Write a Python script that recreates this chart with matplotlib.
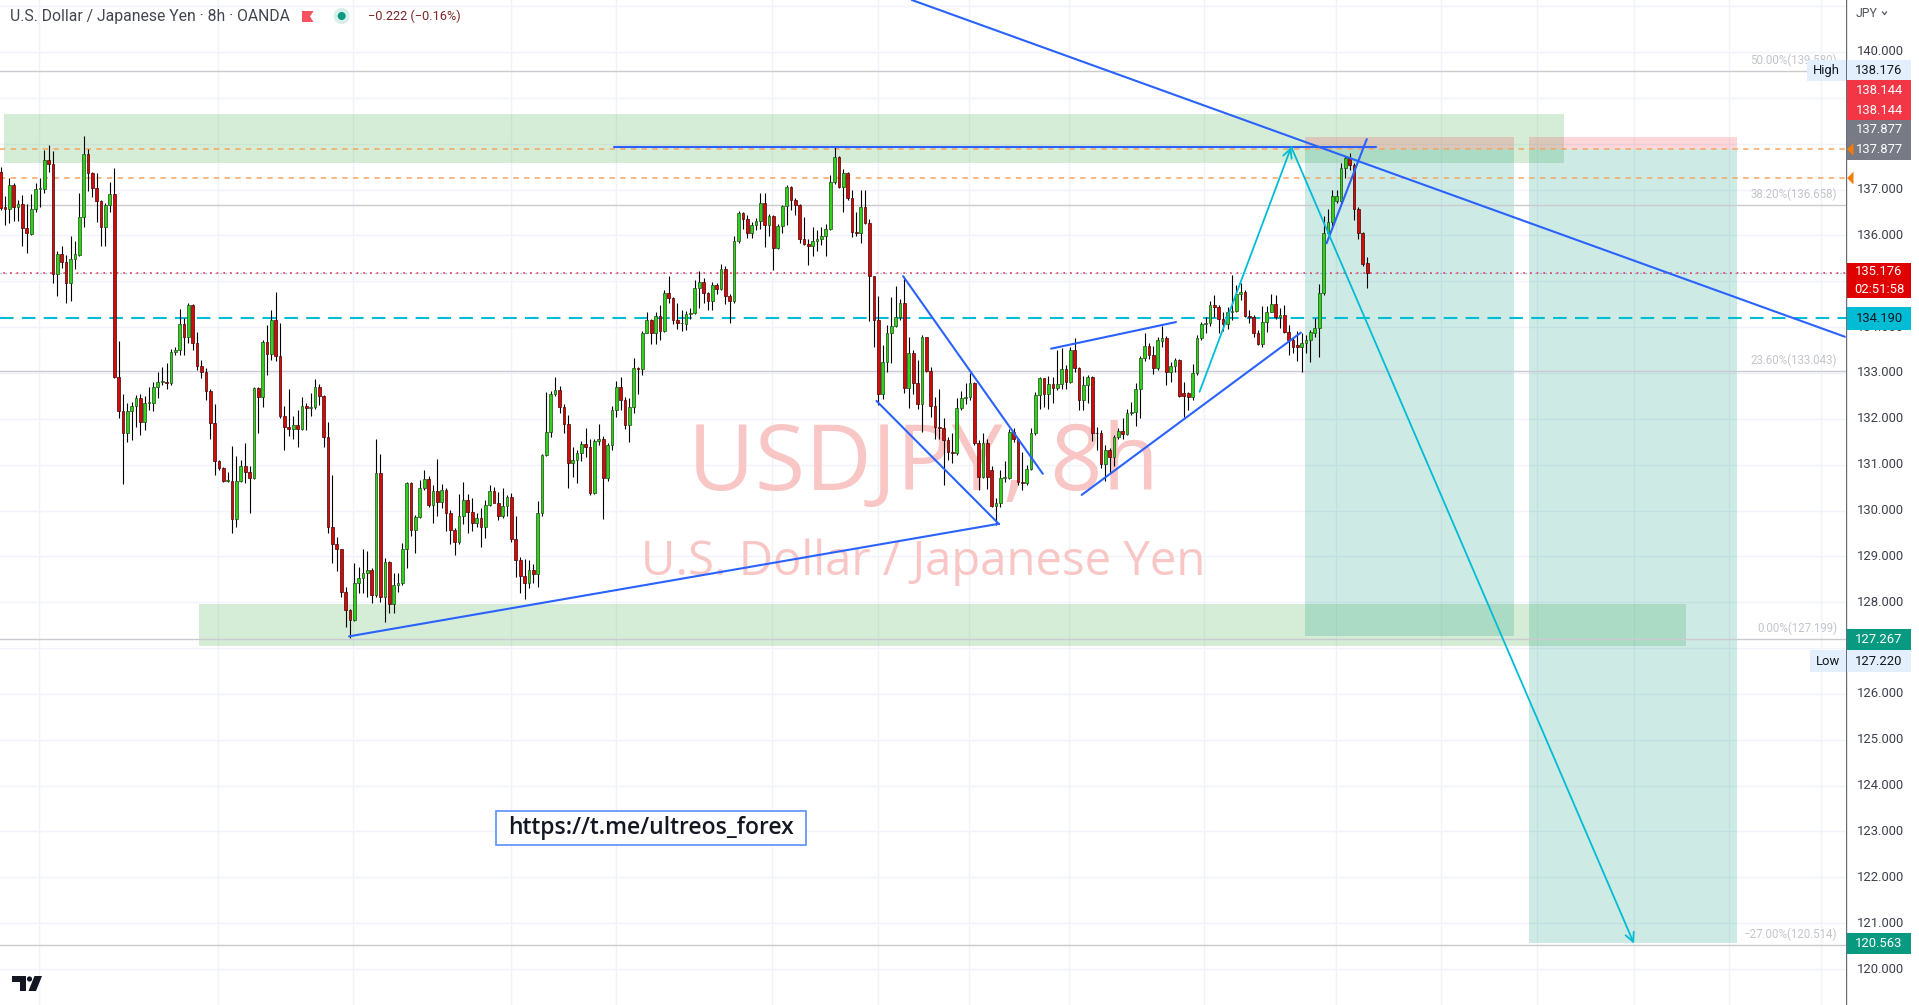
import matplotlib.pyplot as plt
from matplotlib.patches import Rectangle, Polygon, Circle

plt.rcParams['font.family'] = ['Roboto', 'DejaVu Sans']

# -------- data (USDJPY 8h candles) --------
opens = [
    137.39, 136.61, 136.57, 137.09, 136.61, 136.68, 136.16, 136.03, 136.57, 137.01,
    137.01, 137.64, 137.55, 135.16, 135.60, 135.41, 134.96, 135.48, 135.58, 136.40,
    137.77, 137.36, 137.03, 136.75, 136.18, 136.66, 136.90, 132.92, 132.18, 131.68,
    132.18, 132.28, 132.45, 131.92, 132.35, 132.35, 132.69, 132.80, 132.81, 132.79,
    133.45, 133.50, 134.07, 133.79, 134.48, 133.66, 133.15, 133.01, 132.61, 131.90,
    131.09, 130.92, 130.64, 130.65, 129.81, 130.64, 130.96, 130.83, 130.70, 132.67,
    132.47, 133.67, 133.41, 134.16, 133.36, 132.07, 131.83, 131.77, 131.87, 131.77,
    132.28, 132.23, 132.25, 132.69, 132.50, 131.61, 129.63, 129.27, 129.15, 128.23,
    127.84, 127.61, 128.41, 128.52, 128.63, 128.70, 128.16, 130.81, 128.11, 128.88,
    127.97, 128.37, 128.41, 129.17, 130.59, 129.57, 129.85, 130.48, 130.68, 130.13,
    130.43, 130.19, 130.45, 129.94, 129.57, 129.32, 129.88, 130.23, 129.97, 129.72,
    129.83, 129.63, 130.13, 130.43, 130.17, 129.88, 130.10, 130.30, 129.37, 128.91,
    128.57, 128.41, 128.70, 128.61, 129.94, 131.21, 131.72, 132.54, 132.63, 132.25,
    131.89, 131.04, 131.10, 131.26, 131.45, 131.38, 130.39, 131.52, 131.55, 130.70,
    131.43, 132.19, 132.70, 132.41, 131.87, 132.25, 133.10, 133.08, 133.88, 134.16,
    133.88, 134.24, 133.92, 134.74, 134.63, 134.16, 134.08, 134.07, 134.28, 134.30,
    134.85, 134.99, 134.75, 134.56, 134.92, 134.83, 135.26, 134.68, 134.58, 135.87,
    136.48, 136.35, 136.06, 136.23, 136.32, 136.70, 136.23, 136.43, 135.73, 136.21,
    136.64, 137.05, 136.77, 136.67, 135.92, 135.81, 135.77, 135.87, 135.92, 135.99,
    136.13, 137.17, 137.71, 137.05, 137.36, 136.81, 136.08, 136.06, 136.63, 136.27,
    135.12, 134.16, 132.54, 133.23, 133.87, 134.03, 134.21, 134.53, 132.67, 133.43,
    132.77, 132.32, 133.79, 133.05, 132.28, 131.83, 131.81, 131.54, 131.28, 131.25,
    132.23, 132.45, 132.48, 132.77, 131.48, 130.72, 131.48, 130.88, 130.10, 130.16,
    130.70, 130.70, 131.72, 131.55, 130.63, 130.59, 130.90, 131.70, 132.52, 132.88,
    132.54, 132.76, 132.67, 132.76, 133.08, 132.81, 133.49, 133.10, 132.41, 132.74,
    132.91, 131.70, 131.68, 131.01, 131.33, 131.16, 131.60, 131.74, 131.67, 132.12,
    132.14, 132.64, 133.32, 133.59, 133.39, 133.10, 133.70, 133.76, 133.03, 133.15,
    133.28, 132.56, 132.56, 132.47, 133.00, 133.76, 134.07, 134.10, 134.48, 134.43,
    134.17, 134.07, 134.32, 134.36, 134.72, 134.77, 134.24, 134.23, 133.87, 133.63,
    134.12, 134.34, 134.51, 134.21, 134.27, 133.90, 133.71, 133.60, 133.57, 133.66,
    133.72, 133.87, 133.97, 134.75, 136.06, 136.30, 136.74, 136.74, 137.47, 137.68,
    137.54, 136.57, 136.05, 135.39,
]
highs = [
    137.50, 136.86, 137.25, 137.15, 136.77, 136.88, 136.69, 136.91, 137.15, 137.25,
    137.87, 137.97, 137.83, 135.65, 135.76, 135.57, 135.99, 135.87, 136.92, 138.17,
    137.88, 137.39, 137.36, 136.77, 136.70, 137.17, 137.47, 133.70, 132.54, 132.35,
    132.37, 132.52, 132.54, 132.50, 132.70, 132.81, 133.01, 133.14, 133.21, 133.52,
    133.57, 134.39, 134.19, 134.52, 134.51, 133.89, 133.28, 133.10, 132.66, 132.32,
    131.10, 130.94, 130.85, 131.41, 131.19, 131.10, 131.47, 130.96, 132.70, 132.70,
    133.72, 134.05, 134.37, 134.76, 134.10, 132.28, 132.64, 132.06, 132.19, 132.48,
    132.35, 132.57, 132.87, 132.75, 132.52, 131.92, 130.77, 129.43, 129.16, 128.34,
    127.86, 128.85, 128.76, 129.15, 129.12, 128.74, 131.57, 131.23, 128.96, 128.90,
    128.63, 128.64, 129.30, 130.63, 130.63, 129.90, 130.67, 130.88, 130.75, 130.56,
    131.12, 130.58, 130.48, 130.01, 129.61, 130.36, 130.63, 130.36, 130.27, 129.95,
    130.05, 130.23, 130.56, 130.52, 130.41, 130.48, 130.34, 130.39, 129.88, 128.99,
    128.94, 128.91, 128.83, 130.21, 131.23, 132.59, 132.61, 132.91, 132.72, 132.32,
    132.08, 131.39, 131.32, 131.52, 131.81, 131.57, 131.57, 131.89, 131.63, 131.48,
    132.27, 132.83, 132.91, 132.47, 132.45, 133.32, 133.12, 133.92, 134.34, 134.17,
    134.34, 134.48, 134.80, 135.12, 134.65, 134.53, 134.37, 134.36, 134.41, 135.03,
    135.23, 135.07, 134.76, 134.99, 134.96, 135.38, 135.33, 134.72, 135.99, 136.54,
    136.52, 136.45, 136.30, 136.37, 136.92, 136.93, 136.47, 136.45, 136.25, 136.67,
    137.10, 137.07, 136.81, 136.68, 136.41, 135.92, 136.19, 136.12, 136.18, 136.25,
    137.32, 137.92, 137.73, 137.44, 137.39, 136.98, 136.50, 136.98, 136.99, 136.35,
    135.12, 134.68, 133.61, 134.05, 134.65, 134.90, 134.61, 135.10, 133.79, 133.50,
    133.28, 133.83, 133.79, 133.14, 132.48, 132.64, 132.01, 131.61, 131.70, 132.45,
    132.61, 132.77, 132.99, 132.81, 131.54, 131.68, 131.55, 130.96, 130.27, 130.88,
    131.09, 131.77, 131.79, 131.57, 131.28, 130.99, 131.79, 132.59, 132.92, 132.88,
    132.93, 132.92, 133.50, 133.54, 133.17, 133.57, 133.76, 133.14, 132.93, 132.96,
    132.94, 131.83, 131.76, 131.43, 131.36, 131.65, 131.79, 132.01, 132.21, 132.37,
    132.77, 133.36, 133.87, 133.66, 133.59, 133.79, 134.03, 133.81, 133.23, 133.32,
    133.30, 132.81, 132.59, 133.20, 133.83, 134.12, 134.23, 134.56, 134.70, 134.48,
    134.32, 134.43, 135.14, 134.92, 134.96, 134.81, 134.37, 134.27, 133.94, 134.46,
    134.45, 134.72, 134.70, 134.41, 134.48, 134.05, 133.79, 133.92, 133.87, 133.83,
    133.94, 134.19, 134.94, 136.43, 136.57, 136.98, 136.98, 137.57, 137.73, 137.79,
    137.57, 136.61, 136.08, 135.52,
]
lows = [
    136.56, 136.23, 136.27, 136.32, 136.32, 135.77, 135.61, 136.01, 136.50, 136.63,
    136.92, 137.39, 134.96, 134.67, 135.28, 134.52, 134.56, 135.26, 135.55, 136.19,
    136.96, 136.83, 136.30, 135.77, 135.76, 136.52, 132.90, 132.01, 130.57, 131.50,
    131.54, 131.83, 131.65, 131.76, 132.19, 132.16, 132.45, 132.74, 132.64, 132.74,
    133.39, 133.39, 133.39, 133.65, 133.50, 133.07, 132.88, 132.41, 131.57, 130.78,
    130.88, 130.63, 130.63, 129.52, 129.63, 130.63, 130.59, 129.94, 130.68, 131.70,
    132.25, 132.96, 133.28, 133.25, 132.01, 131.31, 131.63, 131.57, 131.39, 131.76,
    131.76, 132.06, 132.21, 132.30, 131.38, 129.50, 128.86, 128.67, 128.12, 127.47,
    127.22, 127.58, 128.21, 128.21, 128.11, 127.99, 128.11, 128.01, 127.57, 127.77,
    127.77, 128.23, 128.37, 128.74, 129.44, 129.07, 129.83, 130.45, 130.08, 129.73,
    129.87, 130.05, 129.56, 129.28, 129.04, 129.28, 129.71, 129.50, 129.56, 129.65,
    129.21, 129.41, 130.10, 130.16, 129.79, 129.83, 129.87, 129.32, 128.54, 128.19,
    128.08, 128.30, 128.41, 128.34, 129.87, 131.19, 131.60, 132.50, 132.13, 131.70,
    130.48, 130.74, 130.61, 131.07, 131.17, 130.34, 130.37, 131.43, 129.81, 130.65,
    131.32, 132.03, 132.19, 131.77, 131.50, 132.12, 132.54, 132.96, 133.87, 133.63,
    133.63, 133.72, 133.90, 134.53, 134.07, 133.95, 133.92, 133.94, 134.17, 134.29,
    134.41, 134.53, 134.37, 134.37, 134.72, 134.81, 134.51, 134.08, 134.53, 135.84,
    136.13, 135.94, 135.94, 136.11, 136.13, 135.74, 135.99, 135.25, 135.70, 136.05,
    136.23, 136.56, 136.45, 135.83, 135.79, 135.36, 135.54, 135.65, 135.79, 135.55,
    136.12, 137.12, 137.03, 136.50, 136.77, 135.96, 135.99, 135.84, 136.25, 134.14,
    133.56, 132.30, 132.43, 133.03, 133.21, 134.00, 134.16, 132.56, 132.23, 132.54,
    132.21, 131.72, 133.01, 132.05, 131.57, 131.57, 130.56, 131.10, 131.04, 131.21,
    132.19, 132.32, 132.41, 131.43, 130.45, 130.70, 130.46, 130.08, 129.68, 130.07,
    130.63, 130.68, 131.50, 130.56, 130.45, 130.56, 130.88, 131.65, 132.21, 132.25,
    132.21, 132.34, 132.63, 132.64, 132.64, 132.79, 133.01, 132.19, 132.19, 132.34,
    131.52, 131.32, 130.92, 130.65, 130.81, 130.96, 131.55, 131.57, 131.65, 132.08,
    131.84, 132.01, 133.27, 133.30, 132.98, 133.07, 133.56, 132.74, 132.81, 133.01,
    132.48, 132.03, 132.19, 132.41, 132.96, 133.71, 133.87, 134.03, 134.23, 133.87,
    133.92, 133.95, 134.16, 134.32, 134.59, 134.23, 134.08, 133.79, 133.61, 133.56,
    133.90, 134.32, 134.17, 133.97, 133.87, 133.39, 133.43, 133.27, 133.03, 133.43,
    133.23, 133.79, 133.34, 134.70, 136.03, 136.21, 136.70, 136.70, 137.25, 137.43,
    136.34, 135.92, 135.34, 134.85,
]
closes = [
    136.59, 136.57, 137.09, 136.61, 136.68, 136.16, 136.05, 136.57, 137.01, 137.02,
    137.64, 137.55, 135.16, 135.60, 135.41, 134.96, 135.48, 135.60, 136.40, 137.77,
    137.36, 137.03, 136.74, 136.18, 136.66, 136.90, 132.92, 132.18, 131.68, 132.18,
    132.28, 132.45, 131.92, 132.35, 132.36, 132.69, 132.80, 132.81, 132.79, 133.45,
    133.50, 134.07, 133.79, 134.48, 133.66, 133.15, 133.01, 132.61, 131.90, 131.09,
    130.92, 130.64, 130.65, 129.81, 130.64, 130.96, 130.83, 130.70, 132.67, 132.47,
    133.67, 133.41, 134.16, 133.36, 132.07, 131.83, 131.77, 131.87, 131.77, 132.28,
    132.23, 132.25, 132.69, 132.50, 131.61, 129.63, 129.27, 129.15, 128.23, 127.84,
    127.61, 128.41, 128.52, 128.63, 128.70, 128.16, 130.81, 128.11, 128.88, 127.97,
    128.37, 128.41, 129.17, 130.59, 129.57, 129.85, 130.48, 130.68, 130.13, 130.43,
    130.19, 130.45, 129.94, 129.57, 129.32, 129.88, 130.23, 129.97, 129.72, 129.83,
    129.63, 130.13, 130.43, 130.17, 129.88, 130.10, 130.30, 129.37, 128.91, 128.57,
    128.41, 128.70, 128.61, 129.94, 131.21, 131.72, 132.54, 132.63, 132.25, 131.89,
    131.04, 131.10, 131.26, 131.45, 131.38, 130.39, 131.52, 131.55, 130.70, 131.43,
    132.19, 132.70, 132.41, 131.87, 132.25, 133.10, 133.08, 133.88, 134.16, 133.88,
    134.24, 133.92, 134.74, 134.63, 134.16, 134.08, 134.09, 134.28, 134.30, 134.85,
    134.99, 134.75, 134.56, 134.92, 134.83, 135.26, 134.68, 134.58, 135.87, 136.48,
    136.35, 136.06, 136.23, 136.32, 136.70, 136.23, 136.43, 135.73, 136.21, 136.64,
    137.05, 136.77, 136.67, 135.92, 135.81, 135.77, 135.87, 135.92, 135.99, 136.13,
    137.17, 137.71, 137.05, 137.36, 136.81, 136.08, 136.06, 136.63, 136.27, 135.12,
    134.16, 132.54, 133.23, 133.87, 134.03, 134.21, 134.53, 132.67, 133.43, 132.77,
    132.32, 133.79, 133.05, 132.28, 131.83, 131.81, 131.54, 131.28, 131.25, 132.23,
    132.45, 132.48, 132.77, 131.48, 130.72, 131.48, 130.72, 130.10, 130.16, 130.70,
    130.71, 131.72, 131.55, 130.63, 130.59, 130.90, 131.70, 132.52, 132.88, 132.54,
    132.76, 132.67, 132.76, 133.08, 132.81, 133.49, 133.10, 132.41, 132.74, 132.91,
    131.70, 131.68, 131.01, 131.33, 131.16, 131.60, 131.74, 131.67, 132.12, 132.14,
    132.64, 133.32, 133.59, 133.39, 133.10, 133.71, 133.76, 133.03, 133.15, 133.28,
    132.50, 132.50, 132.47, 133.00, 133.76, 134.07, 134.10, 134.48, 134.43, 134.17,
    134.07, 134.32, 134.36, 134.72, 134.77, 134.24, 134.21, 133.87, 133.63, 134.12,
    134.34, 134.51, 134.23, 134.27, 133.90, 133.71, 133.57, 133.57, 133.66, 133.72,
    133.89, 133.97, 134.75, 136.06, 136.30, 136.85, 136.86, 137.47, 137.68, 137.54,
    136.57, 136.05, 135.38, 135.176,
]

price_ticks = list(range(120, 141))
hidden_ticks = [127, 135, 138, 139]     # covered by price labels on the scale
fib_levels = [139.580, 136.658, 133.043, 127.199, 120.514]
fib_pcts = ["50.00%", "38.20%", "23.60%", "0.00%", "\u221227.00%"]
last_price = 135.176
countdown = "02:51:58"
alert_level = 134.190
alert_level2 = 137.25
entry = 137.877
stop = 138.144
target1 = 127.267
target2 = 120.563
range_high = 138.176
range_low = 127.220
title = "U.S. Dollar / Japanese Yen \u00b7 8h \u00b7 OANDA"
change_text = "\u22120.222 (\u22120.16%)"

# -------- figure / axes --------
W, H = 1919, 1005
AXW = 1846
PXU = 45.85          # pixels per 1 JPY on the price scale
fig = plt.figure(figsize=(W / 100, H / 100), dpi=100)
fig.patch.set_facecolor("white")

ymax = 140 + 52 / PXU
ymin = 140 - (H - 52) / PXU
XS = 4.366           # pixels per bar
xmin = -0.15
xmax = xmin + AXW / XS


def px2p(y):
    return 140 - (y - 52) / PXU


ax = fig.add_axes([0, 0, AXW / W, 1])
ax.set_xlim(xmin, xmax)
ax.set_ylim(ymin, ymax)
ax.axis("off")

# grid
for p in range(119, 142):
    ax.axhline(p, color="#f0f3fa", lw=1.0, zorder=0)
for gx in [8.8, 49.8, 80.7, 116.9, 141.0, 176.7, 201.0, 221.8, 244.7, 275.6, 305.9,
           330.0, 352.0, 374.0, 395.9, 416.9]:
    ax.axvline(gx, color="#f0f3fa", lw=1.0, zorder=0)

# watermark
ax.text(211.4, 130.45, "USDJPY, 8h", ha="center", va="baseline", fontsize=66,
        family=["Open Sans", "DejaVu Sans"], color="#f9c6c6", zorder=0.5)
ax.text(211.3, 128.59, "U.S. Dollar / Japanese Yen", ha="center", va="baseline",
        fontsize=34, family=["Open Sans", "DejaVu Sans"], color="#f9c6c6", zorder=0.5)

# supply / demand zones
ax.add_patch(Rectangle((0.77, 137.58), 358.1 - 0.77, 138.65 - 137.58,
                       facecolor="#4caf50", alpha=0.23, lw=0, zorder=1))
ax.add_patch(Rectangle((45.5, 127.04), 386.1 - 45.5, 127.95 - 127.04,
                       facecolor="#4caf50", alpha=0.23, lw=0, zorder=1))

# short positions
for x0, x1, tgt in [(298.8, 346.6, target1), (350.05, 397.7, target2)]:
    ax.add_patch(Rectangle((x0, entry), x1 - x0, stop - entry,
                           facecolor="#f23645", alpha=0.2, lw=0, zorder=1))
    ax.add_patch(Rectangle((x0, tgt), x1 - x0, entry - tgt,
                           facecolor="#089981", alpha=0.2, lw=0, zorder=1))

# fib levels
for lvl, pct in zip(fib_levels, fib_pcts):
    ax.axhline(lvl, color="#c9cbd1", lw=1.0, zorder=2)
    ax.text(xmin + 1837 / XS, lvl + 0.24, f"{pct}({lvl:.3f})", ha="right", va="center",
            fontsize=8.3, color="#c3c5cc", zorder=2)

# horizontal levels
ax.axhline(entry, color="#f5a55f", lw=1.1, ls=(0, (3.5, 3.5)), zorder=3)
ax.axhline(alert_level2, color="#f5a55f", lw=1.1, ls=(0, (3.5, 3.5)), zorder=3)
ax.axhline(alert_level, color="#00bcd4", lw=1.5, ls=(0, (6.5, 4)), zorder=3)
ax.axhline(last_price, color="#2962ff", lw=0.9, ls=(0, (1, 3)), alpha=0.6, zorder=3)
ax.axhline(last_price, color="#f23645", lw=1.2, ls=(2, (1, 3)), zorder=3)

# candles
n = len(closes)
xs = list(range(n))
up = [c >= o for o, c in zip(opens, closes)]
ax.vlines(xs, lows, highs, color="#000000", lw=0.8, zorder=5)
ax.bar(xs, [max(abs(c - o), 0.02) for o, c in zip(opens, closes)],
       bottom=[min(o, c) for o, c in zip(opens, closes)], width=0.62,
       color=["#2fd11c" if u else "#d00b0b" for u in up],
       edgecolor=["#1e4d14" if u else "#4a0000" for u in up], linewidth=0.5, zorder=6)

# trend lines
blue = "#2962ff"
segs = [
    ((140.5, 137.93), (315.0, 137.93)),
    ((208.7, ymax), (422.4, 133.79)),
    ((79.8, 127.255), (228.6, 129.71)),
    ((206.7, 135.11), (238.7, 130.80)),
    ((200.6, 132.39), (228.7, 129.70)),
    ((240.6, 133.53), (269.2, 134.11)),
    ((247.6, 130.34), (297.8, 133.88)),
    ((303.7, 135.83), (312.9, 138.10)),
]
for (xa, ya), (xb, yb) in segs:
    ax.plot([xa, xb], [ya, yb], color=blue, lw=1.5, zorder=7, solid_capstyle="round")

# projected move (cyan arrows)
cyan = "#00bcd4"
ax.annotate("", xy=(295.6, 137.93), xytext=(274.6, 132.59),
            arrowprops=dict(arrowstyle="->", color=cyan, lw=1.3, shrinkA=0, shrinkB=0,
                            mutation_scale=16), zorder=7)
ax.annotate("", xy=(374.1, 120.555), xytext=(295.6, 137.93),
            arrowprops=dict(arrowstyle="->", color=cyan, lw=1.3, shrinkA=0, shrinkB=0,
                            mutation_scale=16), zorder=7)

# link text box
ax.add_patch(Rectangle((113.45, 122.70), 184.45 - 113.45, 123.45 - 122.70,
                       facecolor="white", edgecolor="#5b8ff5", lw=1.2, zorder=8))
ax.text(149.0, 123.07, "https://t.me/ultreos_forex", ha="center", va="center",
        fontsize=16.5, fontweight="semibold", family=["Open Sans", "DejaVu Sans"],
        color="#131722", zorder=9)

# -------- price scale --------
ax2 = fig.add_axes([AXW / W, 0, (W - AXW) / W, 1])
ax2.set_xlim(0, W - AXW)
ax2.set_ylim(ymin, ymax)
ax2.axis("off")
ax2.axvline(0.3, color="#6a6d78", lw=1.0, zorder=1)
for t in price_ticks:
    if t in hidden_ticks:
        continue
    ax2.text(10.5, t, f"{t:.3f}", ha="left", va="center", fontsize=9.4,
             color="#3d404a", zorder=1)


def label(top, bot, face, texts, tcolor):
    ax2.add_patch(Rectangle((0.6, px2p(bot)), 64.5, px2p(top) - px2p(bot),
                            facecolor=face, lw=0, zorder=3))
    rows = len(texts)
    h = (bot - top) / rows
    for k, s in enumerate(texts):
        ax2.text(33, px2p(top + h * (k + 0.5)), s, ha="center", va="center",
                 fontsize=9.4, color=tcolor, zorder=4)


label(60, 80.5, "#e3effd", [f"{range_high:.3f}"], "#131722")
label(80.5, 120, "#f23645", [f"{stop:.3f}", f"{stop:.3f}"], "white")
label(120, 160, "#787b86", [f"{entry:.3f}", f"{entry:.3f}"], "white")
label(263, 298, "#e00000", [f"{last_price:.3f}", countdown], "white")
label(307, 330, "#00bcd4", [f"{alert_level:.3f}"], "#131722")
label(629, 650, "#089981", [f"{target1:.3f}"], "white")
label(650, 672, "#e3effd", [f"{range_low:.3f}"], "#131722")
label(933, 954, "#089981", [f"{target2:.3f}"], "white")

for p in [entry, alert_level2]:
    ax2.add_patch(Polygon([(1.2, p), (7.5, p + 0.14), (7.5, p - 0.14)],
                          facecolor="#f57c00", lw=0, zorder=5))

# -------- pixel overlay: header, logo, High/Low tags --------
ov = fig.add_axes([0, 0, 1, 1])
ov.set_xlim(0, W)
ov.set_ylim(H, 0)
ov.axis("off")
ov.patch.set_alpha(0)

ov.text(10, 16, title, ha="left", va="center", fontsize=11.3, color="#434651")
ov.add_patch(Polygon([(302, 11), (313.5, 11), (310, 16.5), (313.5, 22), (302, 22)],
                     facecolor="#f7525f", lw=0))
ov.add_patch(Circle((341.7, 16), 8, facecolor="#d9f0ea", lw=0))
ov.add_patch(Circle((341.7, 16), 4, facecolor="#089981", lw=0))
ov.text(368, 16, change_text, ha="left", va="center", fontsize=9.2, color="#7d2727")

ov.text(1856, 13, "JPY", ha="left", va="center", fontsize=8.8, color="#50535e")
ov.plot([1882.5, 1884.5, 1886.5], [12, 14.5, 12], color="#50535e", lw=0.9)

ov.add_patch(Rectangle((1807, 60), 39, 20.5, facecolor="#e3effd", lw=0))
ov.text(1826.5, 70.5, "High", ha="center", va="center", fontsize=9.4, color="#131722")
ov.add_patch(Rectangle((1810, 650), 36, 22, facecolor="#e3effd", lw=0))
ov.text(1828, 661, "Low", ha="center", va="center", fontsize=9.4, color="#131722")

# TradingView logo
ov.add_patch(Polygon([(12, 976), (26, 976), (26, 991), (19.5, 991), (19.5, 982), (12, 982)],
                     facecolor="#131722", lw=0))
ov.add_patch(Circle((29.5, 979), 2.6, facecolor="#131722", lw=0))
ov.add_patch(Polygon([(34.5, 976), (42, 976), (36, 991), (28.5, 991)],
                     facecolor="#131722", lw=0))

fig.savefig("out.png", dpi=100)
print("Saved out.png")
